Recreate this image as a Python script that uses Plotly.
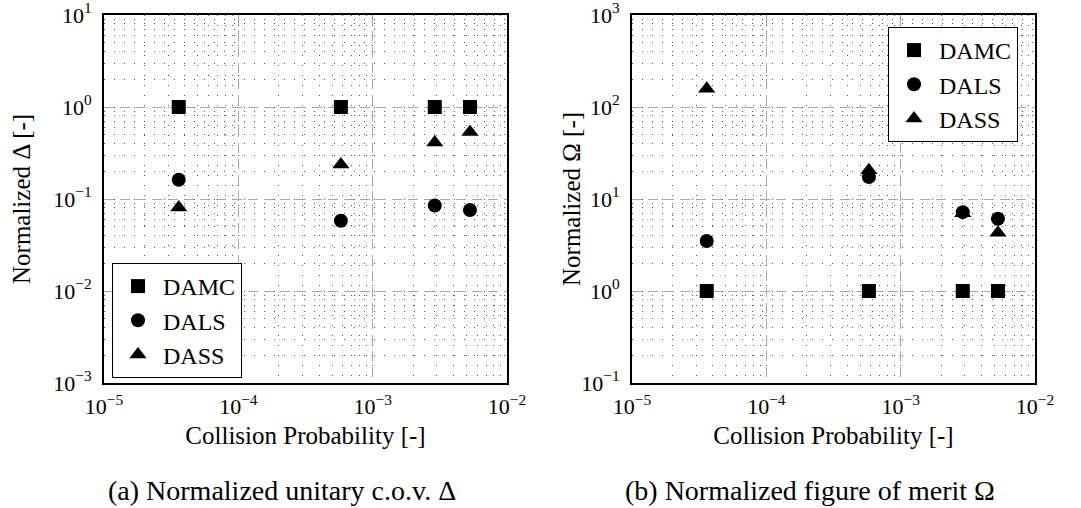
import plotly.graph_objects as go

# ---- data ----
prob = [3.6e-5, 5.8e-4, 2.9e-3, 5.3e-3]
methods = ["DAMC", "DALS", "DASS"]
symbols = ["square", "circle", "triangle-up"]

delta_damc = [1.0, 1.0, 1.0, 1.0]
delta_dals = [0.162, 0.058, 0.085, 0.076]
delta_dass = [0.081, 0.237, 0.41, 0.536]

omega_damc = [1.0, 1.0, 1.0, 1.0]
omega_dals = [3.5, 17.3, 7.2, 6.1]
omega_dass = [158.0, 20.5, 7.0, 4.3]

x_exponents = [-5, -4, -3, -2]
ya_exponents = [-3, -2, -1, 0, 1]
yb_exponents = [-1, 0, 1, 2, 3]

x_title = "Collision Probability [-]"
y_title_a = "Normalized Δ [-]"
y_title_b = "Normalized Ω [-]"
caption_a = "(a) Normalized unitary c.o.v. Δ"
caption_b = "(b) Normalized figure of merit Ω"

FONT = "Liberation Serif"
W, H = 1081, 508


def pow_label(e):
    s = str(e).replace("-", "\u2212")
    return f"10<sup>{s}</sup>"


fig = go.Figure()

delta_sets = [delta_damc, delta_dals, delta_dass]
omega_sets = [omega_damc, omega_dals, omega_dass]

for name, sym, ys in zip(methods, symbols, delta_sets):
    fig.add_trace(go.Scatter(
        x=prob, y=ys, mode="markers", name=name,
        marker=dict(symbol=sym, size=14 if sym != "triangle-up" else 15, color="black"),
        xaxis="x", yaxis="y", legend="legend",
    ))
for name, sym, ys in zip(methods, symbols, omega_sets):
    fig.add_trace(go.Scatter(
        x=prob, y=ys, mode="markers", name=name,
        marker=dict(symbol=sym, size=14 if sym != "triangle-up" else 15, color="black"),
        xaxis="x2", yaxis="y2", legend="legend2",
    ))


def px_x(p):
    return p / W


def px_y(p):
    return 1 - p / H


TOP, BOTTOM = 15, 383
ydom = [px_y(BOTTOM), px_y(TOP)]
ymid = px_y((TOP + BOTTOM) / 2)

common = dict(
    type="log",
    automargin=False,
    showline=True,
    linecolor="black",
    linewidth=2,
    mirror="all",
    ticks="",
    ticklabeloverflow="allow",
    showgrid=True,
    gridcolor="#a8a8a8",
    gridwidth=1,
    griddash="10px,6px",
    zeroline=False,
    tickfont=dict(family=FONT, size=22, color="black"),
    minor=dict(
        dtick="D1",
        showgrid=True,
        gridcolor="#555555",
        gridwidth=1,
        griddash="1px,9px",
        ticks="",
    ),
)

TITLE_FONT = dict(family=FONT, size=25, color="black")

fig.update_layout(
    width=W, height=H, autosize=False,
    margin=dict(l=0, r=0, t=0, b=0),
    paper_bgcolor="white", plot_bgcolor="white",
    font=dict(family=FONT, color="black"),
    xaxis=dict(common, domain=[px_x(104), px_x(507)], range=[-5, -2], anchor="y",
               tickvals=[10.0 ** e for e in x_exponents],
               ticktext=[pow_label(e) for e in x_exponents],
               ticklabelstandoff=3,
               title=dict(text=x_title, font=TITLE_FONT, standoff=8)),
    yaxis=dict(common, domain=ydom, range=[-3, 1], anchor="x",
               tickvals=[10.0 ** e for e in ya_exponents],
               ticktext=[pow_label(e) for e in ya_exponents],
               ticklabelstandoff=6),
    xaxis2=dict(common, domain=[px_x(632), px_x(1035)], range=[-5, -2], anchor="y2",
                tickvals=[10.0 ** e for e in x_exponents],
                ticktext=[pow_label(e) for e in x_exponents],
                ticklabelstandoff=3,
                title=dict(text=x_title, font=TITLE_FONT, standoff=8)),
    yaxis2=dict(common, domain=ydom, range=[-1, 3], anchor="x2",
                tickvals=[10.0 ** e for e in yb_exponents],
                ticktext=[pow_label(e) for e in yb_exponents],
                ticklabelstandoff=6),
    legend=dict(
        x=px_x(112), y=px_y(263), xanchor="left", yanchor="top",
        bgcolor="white", bordercolor="black", borderwidth=1,
        itemwidth=40,
        font=dict(family=FONT, size=24, color="black"),
    ),
    legend2=dict(
        x=px_x(888), y=px_y(27), xanchor="left", yanchor="top",
        bgcolor="white", bordercolor="black", borderwidth=1,
        itemwidth=40,
        font=dict(family=FONT, size=24, color="black"),
    ),
    annotations=[
        dict(text=y_title_a, x=px_x(22), y=ymid, xref="paper", yref="paper",
             textangle=-90, showarrow=False, xanchor="center", yanchor="middle",
             font=TITLE_FONT),
        dict(text=y_title_b, x=px_x(572), y=ymid, xref="paper", yref="paper",
             textangle=-90, showarrow=False, xanchor="center", yanchor="middle",
             font=TITLE_FONT),
        dict(text=caption_a, x=px_x(282), y=px_y(490), xref="paper", yref="paper",
             showarrow=False, xanchor="center", yanchor="middle",
             font=dict(family=FONT, size=28, color="black")),
        dict(text=caption_b, x=px_x(810), y=px_y(490), xref="paper", yref="paper",
             showarrow=False, xanchor="center", yanchor="middle",
             font=dict(family=FONT, size=28, color="black")),
    ],
)

fig.write_html("out.html")
